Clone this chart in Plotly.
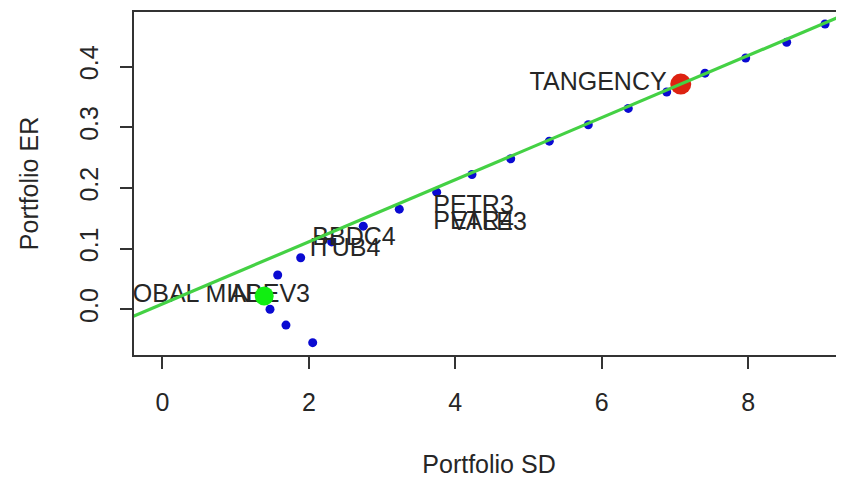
import plotly.graph_objects as go

# Efficient frontier portfolios (SD, ER)
frontier_sd = [2.052, 1.687, 1.469, 1.42, 1.574, 1.888, 2.311, 2.743, 3.235, 3.746,
               4.228, 4.757, 5.284, 5.817, 6.363, 6.888, 7.411, 7.967, 8.527, 9.051]
frontier_er = [-0.055, -0.026, 0.000, 0.028, 0.0565, 0.085, 0.111, 0.137, 0.165, 0.193,
               0.222, 0.248, 0.277, 0.304, 0.331, 0.358, 0.389, 0.414, 0.440, 0.470]

# Individual assets
asset_names = ["ABEV3", "BBDC4", "ITUB4", "PETR3", "PETR4", "VALE3"]
asset_sd = [1.465, 2.616, 2.493, 4.249, 4.249, 4.46]
asset_er = [0.022, 0.116, 0.098, 0.169, 0.143, 0.1405]

# Special portfolios
gmin_sd, gmin_er = 1.39, 0.022
tan_sd, tan_er = 7.08, 0.371

# Capital market line
risk_free = 0.0089
cml_slope = 0.05114
cml_x = [-1.0, 10.0]

FONT = "Liberation Sans, Arial, sans-serif"
TXT = "#262626"

fig = go.Figure()

fig.add_trace(go.Scatter(
    x=frontier_sd, y=frontier_er, mode="markers",
    marker=dict(color="#0a0ad2", size=9, line=dict(width=0)),
    cliponaxis=True, hoverinfo="skip"))

fig.add_trace(go.Scatter(
    x=asset_sd, y=asset_er, mode="text", text=asset_names,
    textposition="middle center",
    textfont=dict(family=FONT, size=25, color=TXT),
    cliponaxis=True, hoverinfo="skip"))

fig.add_trace(go.Scatter(
    x=[gmin_sd], y=[gmin_er], mode="markers+text", text=["GLOBAL MIN"],
    textposition="middle left",
    textfont=dict(family=FONT, size=25, color=TXT),
    marker=dict(color="#11ee11", size=19, line=dict(width=0)),
    cliponaxis=True, hoverinfo="skip"))

fig.add_trace(go.Scatter(
    x=[tan_sd], y=[tan_er], mode="markers+text", text=["TANGENCY"],
    textposition="middle left",
    textfont=dict(family=FONT, size=25, color=TXT),
    marker=dict(color="#dd2211", size=21, line=dict(width=0)),
    cliponaxis=True, hoverinfo="skip"))

fig.add_trace(go.Scatter(
    x=cml_x, y=[risk_free + cml_slope * v for v in cml_x], mode="lines",
    line=dict(color="#44d144", width=3.2),
    cliponaxis=True, hoverinfo="skip"))

# The page body adds an 8px offset, so the figure is 8px smaller and margins shifted.
fig.update_layout(
    width=836, height=470,
    margin=dict(l=126, r=0, t=4, b=123, autoexpand=False),
    paper_bgcolor="white", plot_bgcolor="white",
    showlegend=False,
    font=dict(family=FONT, size=25, color=TXT),
)

fig.update_xaxes(
    range=[-0.389, 9.31], tickmode="array", tickvals=[0, 2, 4, 6, 8],
    showgrid=False, zeroline=False, automargin=False,
    showline=True, linecolor="#333333", linewidth=1.5, mirror=True,
    ticks="outside", ticklen=12, tickwidth=1.5, tickcolor="#333333",
    ticklabelstandoff=12,
    tickfont=dict(family=FONT, size=25, color=TXT),
    title=dict(text="Portfolio SD", font=dict(family=FONT, size=25, color=TXT), standoff=41),
)

fig.update_yaxes(
    range=[-0.0753, 0.4898], tickmode="array", tickvals=[0.0, 0.1, 0.2, 0.3, 0.4],
    ticktext=["0.0", "0.1", "0.2", "0.3", "0.4"], tickangle=-90,
    showgrid=False, zeroline=False, automargin=False,
    showline=True, linecolor="#333333", linewidth=1.5, mirror=False,
    ticks="outside", ticklen=12, tickwidth=1.5, tickcolor="#333333",
    ticklabelstandoff=12,
    tickfont=dict(family=FONT, size=25, color=TXT),
    title=dict(text="Portfolio ER", font=dict(family=FONT, size=25, color=TXT), standoff=30),
)

fig.write_html("out.html")
